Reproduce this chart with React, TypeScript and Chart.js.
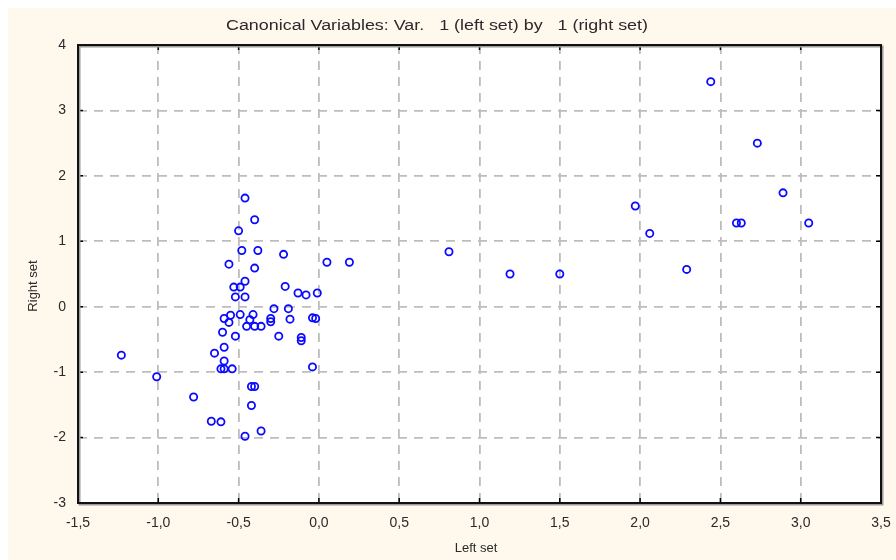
import React, { useEffect, useRef } from "react";
import { Chart, registerables } from "chart.js";

Chart.register(...registerables);

const chartTitle = "Canonical Variables: Var.   1 (left set) by   1 (right set)";
const xAxisTitle = "Left set";
const yAxisTitle = "Right set";

const xTickLabels = ["-1,5", "-1,0", "-0,5", "0,0", "0,5", "1,0", "1,5", "2,0", "2,5", "3,0", "3,5"];
const yTickLabels = ["-3", "-2", "-1", "0", "1", "2", "3", "4"];

const leftSet = [
  -1.23, -1.01, -0.78, -0.67, -0.61, -0.36, -0.46, -0.42, -0.42, -0.4,
  -0.04, -0.61, -0.59, -0.54, -0.59, -0.65, -0.59, -0.6, -0.52, -0.25,
  -0.11, -0.11, -0.45, -0.4, -0.36, -0.59, -0.55, -0.56, -0.49, -0.41,
  -0.43, -0.3, -0.3, -0.18, -0.04, -0.02, -0.28, -0.19, -0.52, -0.46,
  -0.53, -0.49, -0.46, -0.21, -0.13, -0.08, -0.01, -0.56, -0.4, -0.48,
  -0.38, -0.22, -0.5, -0.4, -0.46, 0.05, 0.19, 0.81, 1.19, 1.5,
  1.97, 2.06, 2.29, 2.44, 2.6, 2.63, 2.73, 2.89, 3.05,
];
const rightSet = [
  -0.74, -1.07, -1.38, -1.75, -1.76, -1.9, -1.98, -1.51, -1.22, -1.22,
  -0.92, -0.95, -0.95, -0.95, -0.83, -0.71, -0.62, -0.39, -0.45, -0.45,
  -0.47, -0.52, -0.3, -0.3, -0.3, -0.18, -0.13, -0.24, -0.12, -0.12,
  -0.2, -0.18, -0.23, -0.19, -0.17, -0.18, -0.03, -0.03, 0.15, 0.15,
  0.3, 0.3, 0.39, 0.31, 0.21, 0.18, 0.21, 0.65, 0.59, 0.86,
  0.86, 0.8, 1.16, 1.33, 1.66, 0.68, 0.68, 0.84, 0.5, 0.5,
  1.54, 1.12, 0.57, 3.44, 1.28, 1.28, 2.5, 1.74, 1.28,
];

const TEXT = "#2a2a2a";
const FONT = "Liberation Sans, Arial, sans-serif";

const framePlugin = {
  id: "frame",
  beforeDraw(chart: any) {
    const { ctx, chartArea: a } = chart;
    ctx.save();
    ctx.fillStyle = "#ffffff";
    ctx.fillRect(a.left, a.top, a.right - a.left, a.bottom - a.top);
    ctx.restore();
  },
  afterDraw(chart: any) {
    const { ctx, chartArea: a, scales } = chart;
    ctx.save();
    ctx.strokeStyle = "#000";
    ctx.lineWidth = 1.5;
    const len = 5;
    scales.x.ticks.forEach((t: any) => {
      const px = scales.x.getPixelForValue(t.value);
      ctx.beginPath();
      ctx.moveTo(px, a.top);
      ctx.lineTo(px, a.top + len);
      ctx.moveTo(px, a.bottom);
      ctx.lineTo(px, a.bottom - len);
      ctx.stroke();
    });
    scales.y.ticks.forEach((t: any) => {
      const py = scales.y.getPixelForValue(t.value);
      ctx.beginPath();
      ctx.moveTo(a.left, py);
      ctx.lineTo(a.left + len, py);
      ctx.moveTo(a.right, py);
      ctx.lineTo(a.right - len, py);
      ctx.stroke();
    });
    ctx.strokeStyle = "#9a9a9a";
    ctx.lineWidth = 2;
    ctx.strokeRect(a.left + 1.5, a.top + 1.5, a.right - a.left, a.bottom - a.top);
    ctx.strokeStyle = "#111";
    ctx.lineWidth = 2;
    ctx.strokeRect(a.left, a.top, a.right - a.left, a.bottom - a.top);

    ctx.fillStyle = TEXT;
    ctx.textBaseline = "middle";
    ctx.textAlign = "center";
    ctx.font = `14px ${FONT}`;
    const tw = ctx.measureText(chartTitle).width;
    const target = 422;
    ctx.save();
    ctx.translate(429, 18);
    ctx.scale(target / tw, 1.05);
    ctx.fillText(chartTitle, 0, 0);
    ctx.restore();

    ctx.font = `13px ${FONT}`;
    ctx.fillText(xAxisTitle, 468, 540);
    ctx.save();
    ctx.translate(25, 278);
    ctx.rotate(-Math.PI / 2);
    ctx.fillText(yAxisTitle, 0, 0);
    ctx.restore();
    ctx.restore();
  },
};

export default function App() {
  const ref = useRef<HTMLCanvasElement | null>(null);
  useEffect(() => {
    if (!ref.current) return;
    const points = leftSet.map((x, i) => ({ x, y: rightSet[i] }));
    const chart = new Chart(ref.current, {
      type: "scatter",
      data: {
        datasets: [
          {
            data: points,
            pointStyle: "circle",
            pointRadius: 3.6,
            pointBorderWidth: 1.8,
            pointBorderColor: "#0a0aff",
            pointBackgroundColor: "rgba(0,0,0,0)",
            borderColor: "#0a0aff",
            backgroundColor: "rgba(0,0,0,0)",
          } as any,
        ],
      },
      plugins: [framePlugin],
      options: {
        animation: false,
        responsive: false,
        events: [],
        layout: { padding: { top: 37, right: 15, left: 0, bottom: 0 } },
        plugins: {
          legend: { display: false },
          tooltip: { enabled: false },
          title: { display: false },
        },
        scales: {
          x: {
            type: "linear",
            min: -1.5,
            max: 3.5,
            afterFit: (s: any) => {
              s.height = 57;
              s.paddingLeft = 0;
              s.paddingRight = 0;
            },
            ticks: {
              stepSize: 0.5,
              padding: 12,
              color: TEXT,
              font: { family: FONT, size: 14 },
              maxRotation: 0,
              callback: (_v: any, i: number) => xTickLabels[i],
            },
            grid: { color: "#bdbdbd", lineWidth: 1.8, drawTicks: false },
            border: { display: false, dash: [9, 7] },
          },
          y: {
            type: "linear",
            min: -3,
            max: 4,
            afterFit: (s: any) => {
              s.width = 70;
              s.paddingTop = 0;
              s.paddingBottom = 0;
            },
            ticks: {
              stepSize: 1,
              padding: 12,
              color: TEXT,
              font: { family: FONT, size: 14 },
              callback: (_v: any, i: number) => yTickLabels[i],
            },
            grid: { color: "#bdbdbd", lineWidth: 1.8, drawTicks: false },
            border: { display: false, dash: [9, 7] },
          },
        },
      } as any,
    });
    return () => chart.destroy();
  }, []);
  return (
    <div
      style={{
        position: "fixed",
        left: 8,
        top: 8,
        right: 0,
        bottom: 0,
        background: "#fff8ec",
      }}
    >
      <canvas ref={ref} width={888} height={552} style={{ display: "block", width: 888, height: 552 }} />
    </div>
  );
}
